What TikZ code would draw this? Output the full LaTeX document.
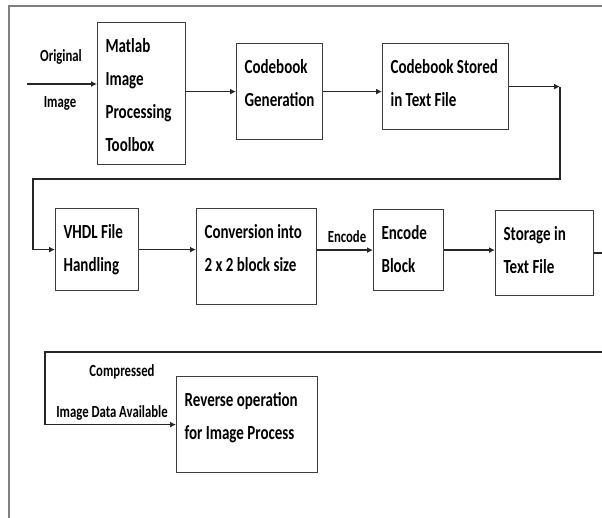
\documentclass[tikz,border=0pt]{standalone}
\usepackage{fontspec}
\setmainfont[FakeStretch=0.75]{Carlito}
\usetikzlibrary{calc, positioning, arrows.meta}
\definecolor{framegray}{RGB}{128,128,128}
\definecolor{boxgray}{RGB}{60,60,60}
\begin{document}
\begin{tikzpicture}[
		x=1pt, y=-1pt,
		box/.style={draw=boxgray, line width=1.2pt, anchor=north west, align=flush left,
			inner xsep=8pt, inner ysep=0pt, text height=29.5pt,
			font=\bfseries\fontsize{20}{33}\selectfont},
		lbl/.style={inner sep=0pt, font=\bfseries\fontsize{17}{20}\selectfont},
		link/.style={draw=black!85, line width=1.2pt},
		arr/.style={link, -{Latex[length=6pt,width=6pt]}},
		frame/.style={draw=framegray, line width=1.6pt}]
		\useasboundingbox (0,0) rectangle (602,518);
		\draw[frame] (602,6) -- (9,6) -- (9,518);
		% first row
		\node[box, text width=72pt, text depth=112.5pt] (matlab) at (97,22) {Matlab\\Image\\Processing\\Toolbox};
		\node[box, text width=70pt, text depth=66.5pt] (gen) at (236,43) {Codebook\\Generation};
		\node[box, text width=110pt, text depth=56.5pt] (stored) at (382,43) {Codebook Stored\\in Text File};
		% second row
		\node[box, text width=67pt, text depth=52.5pt] (vhdl) at (55,208) {VHDL File\\Handling};
		\node[box, text width=104pt, text depth=66.5pt] (conv) at (196,208) {Conversion into\\2 x 2 block size};
		\node[box, text width=54pt, text depth=51.5pt] (enc) at (373,209) {Encode\\Block};
		\node[box, text width=82pt, text depth=55.5pt] (store) at (495,210) {Storage in\\Text File};
		% third row
		\node[box, text width=125pt, text depth=66.5pt] (rev) at (176,376) {Reverse operation\\for Image Process};
		% labels
		\node[lbl] (orig) at (61,57) {Original};
		\node[lbl] (origimg) at (60,103) {Image};
		\node[lbl] (enclbl) at (347,237) {Encode};
		\node[lbl] (comp) at (122,372) {Compressed};
		\node[lbl] (avail) at (112,413) {Image Data Available};
		% free ends
		\coordinate (src) at (27,84);
		\coordinate (rt) at (560,179);
		\coordinate (lt) at (33,179);
		\coordinate (out) at (602,249);
		\coordinate (botr) at (602,352);
		\coordinate (botl) at (45,352);
		% connectors
		\draw[arr] (src) -- (matlab.west |- src);
		\draw[arr] (matlab.east |- gen.west) -- (gen.west);
		\draw[arr] (gen.east) -- (gen.east -| stored.west);
		\draw[arr] (stored.east) -- (stored.east -| rt);
		\draw[arr] (stored.east -| rt) -- (rt) -- (lt) |- (vhdl.west);
		\draw[arr] (vhdl.east) -- (vhdl.east -| conv.west);
		\draw[arr] (conv.east |- enc.west) -- (enc.west);
		\draw[arr] (enc.east) -- (enc.east -| store.west);
		\draw[link] (store.east) -- (store.east -| out);
		\draw[arr] (botr) -- (botl) |- (rev.west);
\end{tikzpicture}
\end{document}
